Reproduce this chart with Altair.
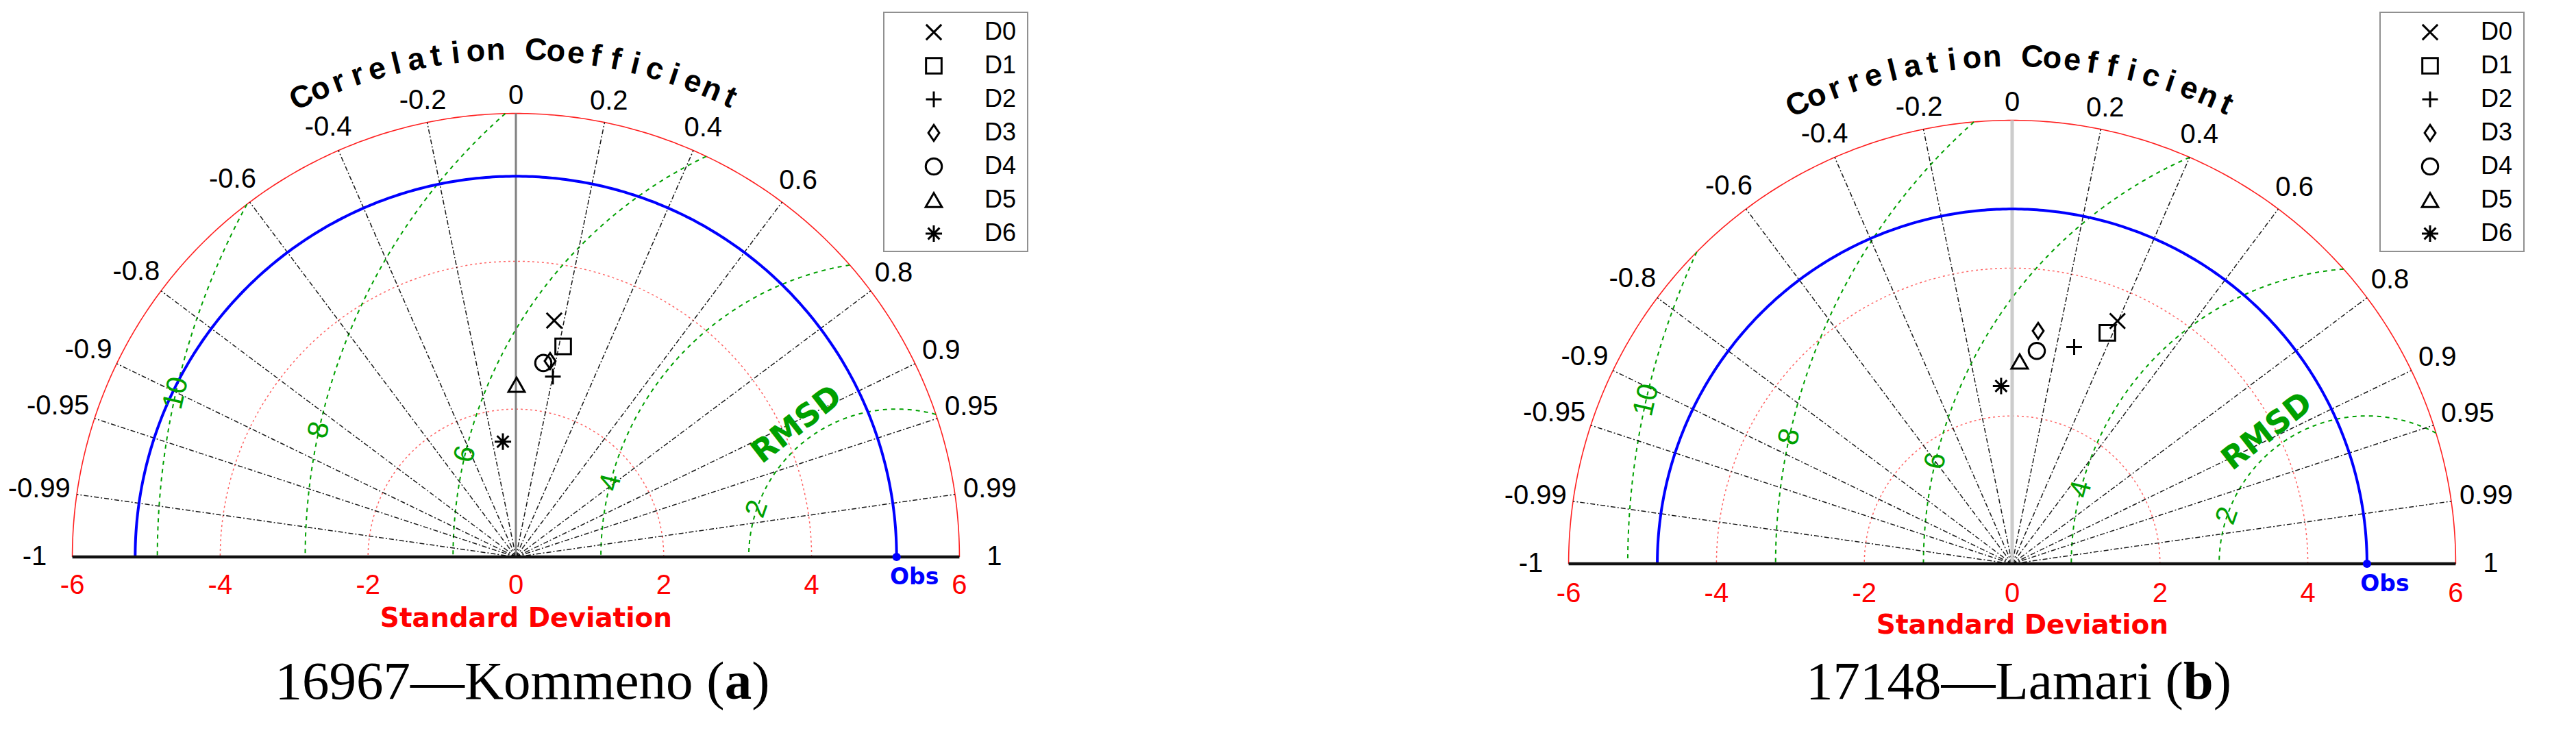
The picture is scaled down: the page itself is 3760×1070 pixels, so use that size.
import math
import numpy as np
import pandas as pd
import altair as alt

# ---------------- data ----------------
SERIES = ["D0", "D1", "D2", "D3", "D4", "D5", "D6"]

A_STD = [3.24, 2.92, 2.49, 2.69, 2.65, 2.33, 1.57]
A_CORR = [0.160, 0.219, 0.201, 0.172, 0.140, 0.004, -0.112]
A_OBS = 5.15

B_STD = [3.58, 3.38, 3.05, 3.17, 2.90, 2.74, 2.41]
B_CORR = [0.398, 0.381, 0.275, 0.111, 0.115, 0.037, -0.062]
B_OBS = 4.80

CORR_GRID = [-0.99, -0.95, -0.9, -0.8, -0.6, -0.4, -0.2,
             0.2, 0.4, 0.6, 0.8, 0.9, 0.95, 0.99]
CORR_LABELS = ["-1", "-0.99", "-0.95", "-0.9", "-0.8", "-0.6", "-0.4", "-0.2", "0",
               "0.2", "0.4", "0.6", "0.8", "0.9", "0.95", "0.99", "1"]
STD_TICKS = [-6, -4, -2, 0, 2, 4, 6]
STD_RINGS = [2, 4]
STD_MAX = 6
RMSD_LEVELS = [2, 4, 6, 8, 10]

CAPTION_A = ("16967\u2014Kommeno (", "a", ")")
CAPTION_B = ("17148\u2014Lamari (", "b", ")")
AXIS_TITLE = "Standard Deviation"
ARC_TITLE = "Correlation Coefficient"
RMSD_TITLE = "RMSD"
OBS_LABEL = "Obs"

# ---------------- layout / style ----------------
K = 107.9            # pixels per std unit
W, H = 1872, 1054    # each panel's plot area
RMSD_LABEL_ANGLE = [161.0, 165.4, 166.6, 167.6, 167.2]
SHAPES = [
    "M-1,-1L1,1M-1,1L1,-1",
    "square",
    "M-1,0L1,0M0,-1L0,1",
    "M0,-1L0.68,0L0,1L-0.68,0Z",
    "circle",
    "M0,-0.87L1,0.87L-1,0.87Z",
    "M-1,0L1,0M0,-1L0,1M-0.7,-0.7L0.7,0.7M-0.7,0.7L0.7,-0.7",
]
SIZES = [500, 580, 800, 1225, 620, 1050, 760]
GREEN = "#00a000"
SANS = "Liberation Sans, Arial, sans-serif"
BOLD_SANS = "DejaVu Sans, Verdana, sans-serif"
SERIF = "Liberation Serif, Times New Roman, serif"

SERIF_W = {str(d): 0.5 for d in range(10)}
SERIF_W.update({"\u2014": 1.0, "K": 0.722, "o": 0.5, "m": 0.778, "e": 0.444, "n": 0.5,
                "L": 0.611, "a": 0.444, "r": 0.333, "i": 0.278, " ": 0.25, "(": 0.333, ")": 0.333})
SERIF_BOLD_W = {"a": 0.5, "b": 0.556}
SANS_W = {str(d): 0.556 for d in range(10)}
SANS_W.update({".": 0.278, "-": 0.2})


def arc_df(x0, radii, t0=0.0, t1=180.0, n=361, clip=None):
    rows = []
    for g, r in enumerate(radii):
        a0 = t0
        if clip is not None:
            xi = (clip ** 2 - r ** 2 + x0 ** 2) / (2 * x0)
            yi = math.sqrt(max(clip ** 2 - xi ** 2, 0.0))
            a0 = math.degrees(math.atan2(yi, xi - x0))
        for i, t in enumerate(np.linspace(math.radians(a0), math.radians(t1), n)):
            rows.append({"g": g, "i": i, "x": x0 + r * math.cos(t), "y": r * math.sin(t)})
    return pd.DataFrame(rows)


def panel(std, corr, obs, cx, cy, caption, cl_color, cl_width, lab_dy):
    sx = alt.Scale(domain=[-cx / K, (W - cx) / K], nice=False, zero=False)
    sy = alt.Scale(domain=[-(H - cy) / K, cy / K], nice=False, zero=False)

    def px(v):
        return (v - cx) / K

    def py(v):
        return (cy - v) / K

    def X(f="x"):
        return alt.X(f"{f}:Q", scale=sx, axis=None)

    def Y(f="y"):
        return alt.Y(f"{f}:Q", scale=sy, axis=None)

    def lines(df, **kw):
        return alt.Chart(df).mark_line(**kw).encode(
            x=X(), y=Y(), detail="g:N", order=alt.Order("i:Q"))

    def texts(df, angle=False, **kw):
        enc = dict(x=X(), y=Y(), text="t:N")
        if angle:
            enc["angle"] = alt.Angle("a:Q", scale=None)
        return alt.Chart(df).mark_text(**kw).encode(**enc)

    layers = []
    # std rings
    layers.append(lines(arc_df(0.0, STD_RINGS), color="#ff3030", strokeWidth=1.5,
                        strokeDash=[3, 4], opacity=0.75))
    layers.append(lines(arc_df(0.0, [STD_MAX]), color="#ff2020", strokeWidth=1.6))
    # RMSD arcs
    layers.append(lines(arc_df(obs, RMSD_LEVELS, clip=STD_MAX), color=GREEN,
                        strokeWidth=2, strokeDash=[6, 6]))
    # radial correlation lines
    rad = []
    for g, c in enumerate(CORR_GRID):
        th = math.acos(c)
        rad.append({"g": g, "i": 0, "x": 0.0, "y": 0.0})
        rad.append({"g": g, "i": 1, "x": STD_MAX * math.cos(th), "y": STD_MAX * math.sin(th)})
    layers.append(lines(pd.DataFrame(rad), color="#000000", strokeWidth=1.5,
                        strokeDash=[7, 3, 2, 3], opacity=0.9))
    # zero-correlation line
    layers.append(lines(pd.DataFrame({"g": [0, 0], "i": [0, 1], "x": [0, 0], "y": [0, STD_MAX]}),
                        color=cl_color, strokeWidth=cl_width))
    # observed std arc
    layers.append(lines(arc_df(0.0, [obs]), color="#0000ff", strokeWidth=4))
    # base line
    layers.append(lines(pd.DataFrame({"g": [0, 0], "i": [0, 1], "x": [-STD_MAX, STD_MAX], "y": [0, 0]}),
                        color="#111111", strokeWidth=4.5))
    # Obs point and label
    odf = pd.DataFrame({"x": [obs], "y": [0.0], "t": [OBS_LABEL]})
    layers.append(alt.Chart(odf).mark_point(filled=True, color="#0000ff", size=150, opacity=1)
                  .encode(x=X(), y=Y()))
    layers.append(texts(odf, font=BOLD_SANS, fontWeight="bold", fontSize=33, color="#0000ff",
                        dx=26, dy=30))

    # correlation labels
    rows = []
    for lab in CORR_LABELS:
        c = float(lab)
        th = math.acos(c)
        w = sum(SANS_W[ch] for ch in lab) * 40
        r = STD_MAX + 0.1 + (w / 2 * abs(math.cos(th)) + 15 * math.sin(th)) / K
        if abs(c) == 1:
            r += 0.27
        rows.append({"x": r * math.cos(th), "y": r * math.sin(th), "t": lab})
    layers.append(texts(pd.DataFrame(rows), font=SANS, fontSize=40, color="#000000"))

    # std tick labels
    sdf = pd.DataFrame({"x": STD_TICKS, "y": [0.0] * len(STD_TICKS), "t": [str(v) for v in STD_TICKS]})
    layers.append(texts(sdf, font=SANS, fontSize=40, color="#ff0000", dy=lab_dy))

    # axis title
    tdf = pd.DataFrame({"x": [15 / K], "y": [-90 / K], "t": [AXIS_TITLE]})
    layers.append(texts(tdf, font=BOLD_SANS, fontWeight="bold", fontSize=39, color="#ff0000"))

    # RMSD level labels
    rows = []
    for R, th in zip(RMSD_LEVELS, RMSD_LABEL_ANGLE):
        t = math.radians(th)
        rows.append({"x": obs + R * math.cos(t), "y": R * math.sin(t), "t": str(R),
                     "a": (90 - th) % 360})
    layers.append(texts(pd.DataFrame(rows), angle=True, font=SANS, fontSize=42, color=GREEN))
    t = math.radians(127)
    rdf = pd.DataFrame({"x": [obs + 2.24 * math.cos(t)], "y": [2.24 * math.sin(t)],
                        "t": [RMSD_TITLE], "a": [(90 - 128) % 360]})
    layers.append(texts(rdf, angle=True, font=BOLD_SANS, fontWeight="bold", fontSize=46, color=GREEN))

    # curved title
    n = len(ARC_TITLE)
    rows = []
    for i, ch in enumerate(ARC_TITLE):
        th = 115 - i * 50 / (n - 1)
        t = math.radians(th)
        rows.append({"x": 6.86 * math.cos(t), "y": 6.86 * math.sin(t), "t": ch, "a": (90 - th) % 360})
    layers.append(texts(pd.DataFrame(rows), angle=True, font=SANS, fontWeight="bold",
                        fontSize=45, color="#000000"))

    # data markers
    pts = pd.DataFrame({"s": SERIES, "std": std, "corr": corr})
    shape = alt.Shape("s:N", scale=alt.Scale(domain=SERIES, range=SHAPES), legend=None)
    size = alt.Size("s:O", scale=alt.Scale(domain=SERIES, range=SIZES), legend=None)
    layers.append(
        alt.Chart(pts)
        .transform_calculate(x="datum.std * datum.corr",
                             y="datum.std * sqrt(1 - datum.corr * datum.corr)")
        .mark_point(filled=False, color="#000000", strokeWidth=3, opacity=1)
        .encode(x=X(), y=Y(), shape=shape, size=size)
    )

    # legend box (page y is the same for both panels)
    left, right = cx + 537, cx + 747
    top, bottom = 10, 359
    box = pd.DataFrame({"x": [px(left)], "x2": [px(right)], "y": [py(top)], "y2": [py(bottom)]})
    layers.append(alt.Chart(box).mark_rect(fill="#ffffff", stroke="#909090", strokeWidth=2)
                  .encode(x=X(), x2="x2:Q", y=Y(), y2="y2:Q"))
    ldf = pd.DataFrame({"s": SERIES,
                        "x": [px(cx + 610)] * len(SERIES),
                        "lx": [px(cx + 684)] * len(SERIES),
                        "y": [py(39 + 49 * i) for i in range(len(SERIES))],
                        "t": SERIES})
    layers.append(alt.Chart(ldf).mark_point(filled=False, color="#000000", strokeWidth=3, opacity=1)
                  .encode(x=X(), y=Y(), shape=shape, size=size))
    layers.append(alt.Chart(ldf).mark_text(font=SANS, fontSize=36, align="left", color="#000000")
                  .encode(x=X("lx"), y=Y(), text="t:N"))

    # caption with bold panel letter
    fs = 79
    p1, let, p3 = caption
    w1 = sum(SERIF_W[ch] for ch in p1) * fs
    w2 = SERIF_BOLD_W[let] * fs
    w3 = sum(SERIF_W[ch] for ch in p3) * fs
    cap_center = 9.5
    split = cap_center - (w1 + w2 + w3) / 2 + w1
    base_y = py(1012)
    c1 = pd.DataFrame({"x": [split / K], "y": [base_y], "t": [p1]})
    c2 = pd.DataFrame({"x": [split / K], "y": [base_y], "t": [let]})
    c3 = pd.DataFrame({"x": [(split + w2) / K], "y": [base_y], "t": [p3]})
    layers.append(texts(c1, font=SERIF, fontSize=fs, align="right", baseline="alphabetic", color="#000000"))
    layers.append(texts(c2, font=SERIF, fontSize=fs, fontWeight="bold", align="left",
                        baseline="alphabetic", color="#000000"))
    layers.append(texts(c3, font=SERIF, fontSize=fs, align="left", baseline="alphabetic", color="#000000"))

    return alt.layer(*layers).properties(width=W, height=H)


pa = panel(A_STD, A_CORR, A_OBS, 745, 805, CAPTION_A, "#808080", 3, 42)
pb = panel(B_STD, B_CORR, B_OBS, 1057, 815, CAPTION_B, "#cccccc", 5, 44)

chart = (
    alt.hconcat(pa, pb, spacing=0)
    .properties(padding=0)
    .configure_view(strokeWidth=0)
)
chart.save("out.html", embed_options={"renderer": "svg", "actions": False})
